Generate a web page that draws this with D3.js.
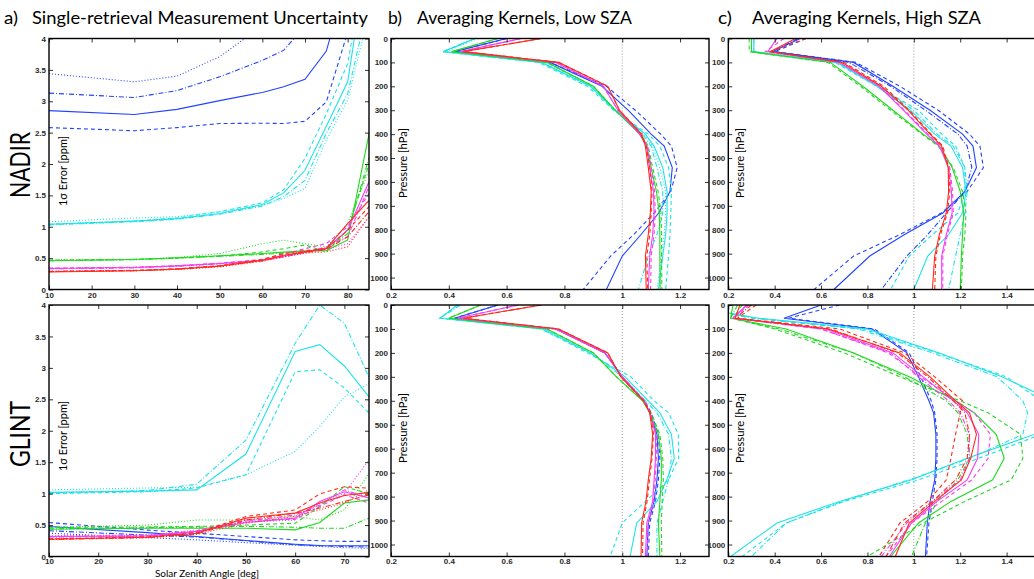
<!DOCTYPE html>
<html>
<head>
<meta charset="utf-8">
<script src="https://cdn.jsdelivr.net/npm/d3@7"></script>
<style>
  body { margin: 0; background: #fff; }
</style>
</head>
<body>
<script>
// ---- data ----
// every table: 5 cases (rows) x 4 variants (solid, dashed, dash-dot, dotted); null = not drawn

const szaNadir = [10, 30, 40, 50, 60, 65, 70, 75, 80, 85];
const szaGlint = [10, 30, 40, 50, 60, 65, 70, 75];
const pLevels = [0, 55, 100, 200, 300, 400, 450, 540, 640, 730, 820, 910, 1050];

const errNadir = [
  [[2.85, 2.79, 2.87, 3.01, 3.14, 3.23, 3.35, 3.80, 5.0, 6.0],
   [2.58, 2.53, 2.58, 2.645, 2.65, 2.645, 2.68, 2.99, 4.1, 5.0],
   [3.13, 3.06, 3.17, 3.39, 3.65, 3.81, 4.2, 5.0, 6.0, 7.0],
   [3.44, 3.31, 3.40, 3.71, 4.2, 4.6, 5.0, 6.0, 7.0, 8.0]],
  [[1.04, 1.09, 1.13, 1.21, 1.355, 1.54, 1.90, 2.60, 3.31, 5.5],
   [1.04, 1.09, 1.14, 1.24, 1.38, 1.59, 2.09, 2.80, 3.60, 5.5],
   [1.03, 1.08, 1.12, 1.20, 1.33, 1.48, 1.74, 2.49, 3.12, 4.6],
   [1.08, 1.14, 1.16, 1.24, 1.34, 1.45, 1.61, 2.38, 3.02, 4.4]],
  [[0.457, 0.478, 0.505, 0.537, 0.574, 0.595, 0.616, 0.62, 0.79, 2.48],
   [0.467, 0.48, 0.50, 0.53, 0.60, 0.65, 0.71, 0.60, 0.95, 2.0],
   [0.46, 0.475, 0.50, 0.53, 0.56, 0.58, 0.60, 0.66, 0.89, 2.1],
   [0.47, 0.48, 0.51, 0.574, 0.73, 0.786, 0.73, 0.68, 1.05, 1.9]],
  [[0.335, 0.35, 0.377, 0.414, 0.467, 0.53, 0.60, 0.653, 0.945, 1.716],
   [0.34, 0.355, 0.38, 0.42, 0.48, 0.56, 0.65, 0.733, 1.0, 1.53],
   [0.33, 0.345, 0.37, 0.41, 0.46, 0.52, 0.59, 0.68, 0.84, 1.64],
   [0.34, 0.35, 0.375, 0.41, 0.46, 0.52, 0.58, 0.64, 0.73, 1.16]],
  [[0.28, 0.30, 0.324, 0.372, 0.467, 0.547, 0.60, 0.653, 1.05, 1.42],
   [0.29, 0.305, 0.33, 0.38, 0.48, 0.574, 0.62, 0.65, 0.945, 1.32],
   [0.285, 0.30, 0.325, 0.37, 0.46, 0.54, 0.59, 0.64, 0.84, 1.24],
   [0.29, 0.30, 0.32, 0.36, 0.45, 0.52, 0.58, 0.60, 0.68, 1.16]]
];

const errGlint = [
  [[0.477, 0.38, 0.318, 0.254, 0.196, 0.175, 0.17, 0.17],
   [0.54, 0.42, 0.37, 0.318, 0.265, 0.25, 0.24, 0.24],
   [0.41, 0.34, 0.31, 0.25, 0.185, 0.17, 0.16, 0.15],
   [0.37, 0.30, 0.265, 0.22, 0.18, 0.16, 0.14, 0.13]],
  [[1.02, 1.04, 1.06, 1.63, 3.26, 3.37, 3.03, 2.54],
   [1.0, 1.03, 1.09, 1.30, 2.94, 2.97, 2.68, 2.28],
   [1.01, 1.05, 1.15, 1.85, 3.39, 4.0, 3.71, 2.85],
   [1.06, 1.09, 1.10, 1.30, 1.67, 2.07, 2.54, 2.75]],
  [[0.434, 0.45, 0.45, 0.45, 0.424, 0.54, 0.85, 0.90],
   [0.466, 0.47, 0.477, 0.50, 0.53, 0.795, 1.11, 1.0],
   [0.44, 0.46, 0.466, 0.48, 0.466, 0.45, 0.45, 0.61],
   [0.46, 0.50, 0.58, 0.58, 0.636, 0.58, 0.74, 1.32]],
  [[0.318, 0.328, 0.40, 0.54, 0.61, 0.874, 1.03, 0.93],
   [0.32, 0.33, 0.41, 0.58, 0.59, 0.80, 0.98, 0.85],
   [0.31, 0.32, 0.39, 0.56, 0.66, 0.82, 1.06, 0.93],
   [0.33, 0.34, 0.42, 0.55, 0.58, 0.85, 1.0, 1.54]],
  [[0.275, 0.307, 0.37, 0.61, 0.69, 0.85, 0.97, 1.02],
   [0.28, 0.31, 0.38, 0.636, 0.74, 0.996, 1.11, 1.086],
   [0.27, 0.30, 0.36, 0.58, 0.69, 0.77, 0.874, 0.98],
   [0.28, 0.30, 0.35, 0.53, 0.64, 0.74, 0.85, 1.06]]
];

const kernLowNadir = [
  [[0.60, 0.42, 0.75, 0.93, 1.02, 1.10, 1.145, 1.173, 1.165, 1.126, 1.065, 1.0, 0.945],
   [0.60, 0.42, 0.75, 0.945, 1.045, 1.133, 1.17, 1.19, 1.168, 1.11, 1.04, 0.96, 0.865],
   null, null],
  [[0.49, 0.38, 0.72, 0.89, 0.975, 1.08, 1.11, 1.14, 1.155, 1.155, 1.15, 1.14, 1.125],
   [0.49, 0.38, 0.71, 0.88, 0.97, 1.09, 1.13, 1.16, 1.17, 1.168, 1.165, 1.16, 1.15],
   [0.49, 0.38, 0.72, 0.89, 0.975, 1.07, 1.10, 1.12, 1.14, 1.14, 1.12, 1.09, 1.056],
   [0.50, 0.39, 0.73, 0.895, 0.98, 1.075, 1.105, 1.13, 1.15, 1.15, 1.145, 1.135, 1.12]],
  [[0.57, 0.41, 0.74, 0.90, 0.975, 1.06, 1.085, 1.10, 1.118, 1.128, 1.13, 1.13, 1.131],
   [0.57, 0.41, 0.74, 0.90, 0.975, 1.065, 1.09, 1.105, 1.124, 1.134, 1.136, 1.136, 1.137],
   null, null],
  [[0.65, 0.44, 0.77, 0.935, 0.985, 1.06, 1.085, 1.095, 1.108, 1.11, 1.105, 1.095, 1.09],
   [0.65, 0.44, 0.77, 0.935, 0.985, 1.062, 1.088, 1.10, 1.112, 1.114, 1.11, 1.10, 1.098],
   null, null],
  [[0.72, 0.45, 0.78, 0.95, 0.99, 1.065, 1.08, 1.09, 1.10, 1.097, 1.09, 1.08, 1.083],
   [0.72, 0.45, 0.78, 0.95, 0.99, 1.068, 1.083, 1.095, 1.103, 1.10, 1.095, 1.085, 1.088],
   null, null]
];

const kernLowGlint = [
  [[0.57, 0.42, 0.77, 0.94, 1.0, 1.075, 1.095, 1.12, 1.125, 1.12, 1.11, 1.09, 1.085],
   [0.57, 0.42, 0.77, 0.94, 1.0, 1.078, 1.10, 1.125, 1.13, 1.125, 1.115, 1.095, 1.09],
   null, null],
  [[0.43, 0.37, 0.73, 0.89, 1.01, 1.09, 1.13, 1.17, 1.18, 1.154, 1.12, 1.05, 1.027],
   [0.43, 0.37, 0.72, 0.88, 1.03, 1.11, 1.16, 1.194, 1.195, 1.16, 1.08, 1.0, 0.958],
   [0.44, 0.37, 0.72, 0.89, 1.0, 1.08, 1.12, 1.16, 1.17, 1.16, 1.14, 1.12, 1.12],
   null],
  [[0.51, 0.40, 0.74, 0.90, 0.98, 1.07, 1.095, 1.125, 1.135, 1.135, 1.13, 1.125, 1.13],
   [0.51, 0.40, 0.74, 0.90, 0.98, 1.072, 1.10, 1.13, 1.14, 1.142, 1.138, 1.135, 1.137],
   null, null],
  [[0.64, 0.43, 0.77, 0.94, 1.0, 1.075, 1.095, 1.115, 1.115, 1.11, 1.105, 1.085, 1.08],
   [0.64, 0.43, 0.77, 0.94, 1.0, 1.077, 1.098, 1.118, 1.118, 1.114, 1.108, 1.09, 1.086],
   null, null],
  [[0.72, 0.45, 0.78, 0.95, 0.995, 1.073, 1.095, 1.105, 1.10, 1.09, 1.082, 1.067, 1.065],
   [0.72, 0.45, 0.78, 0.95, 0.995, 1.075, 1.097, 1.108, 1.103, 1.094, 1.086, 1.072, 1.07],
   null, null]
];

const kernHighNadir = [
  [[0.51, 0.39, 0.74, 0.91, 1.07, 1.21, 1.255, 1.27, 1.22, 1.125, 0.96, 0.81, 0.655],
   [0.535, 0.40, 0.75, 0.94, 1.105, 1.24, 1.285, 1.30, 1.23, 1.118, 0.94, 0.74, 0.57],
   [0.50, 0.39, 0.72, 0.90, 1.05, 1.19, 1.23, 1.25, 1.22, 1.14, 1.06, 0.97, 0.86],
   null],
  [[0.31, 0.31, 0.67, 0.84, 0.985, 1.09, 1.16, 1.21, 1.225, 1.21, 1.15, 1.06, 1.0],
   [0.30, 0.30, 0.66, 0.84, 1.02, 1.12, 1.18, 1.22, 1.22, 1.19, 1.08, 0.98, 0.90],
   [0.31, 0.31, 0.67, 0.85, 1.0, 1.10, 1.17, 1.22, 1.23, 1.22, 1.20, 1.18, 1.15],
   null],
  [[0.30, 0.30, 0.64, 0.78, 0.91, 1.04, 1.11, 1.165, 1.20, 1.215, 1.21, 1.205, 1.20],
   [0.29, 0.29, 0.63, 0.77, 0.90, 1.035, 1.105, 1.17, 1.21, 1.225, 1.22, 1.21, 1.205],
   null, null],
  [[0.41, 0.37, 0.68, 0.85, 0.955, 1.055, 1.11, 1.15, 1.162, 1.165, 1.14, 1.12, 1.12],
   [0.44, 0.36, 0.69, 0.855, 0.96, 1.06, 1.115, 1.155, 1.167, 1.17, 1.145, 1.125, 1.125],
   null, null],
  [[0.49, 0.38, 0.69, 0.86, 0.975, 1.07, 1.12, 1.148, 1.15, 1.14, 1.11, 1.09, 1.08],
   [0.535, 0.38, 0.70, 0.87, 0.98, 1.075, 1.125, 1.15, 1.155, 1.145, 1.115, 1.095, 1.09],
   null, null]
];

const kernHighGlint = [
  [[0.60, 0.44, 0.82, 0.97, 1.02, 1.065, 1.085, 1.095, 1.095, 1.09, 1.07, 1.058, 1.05],
   [0.68, 0.46, 0.83, 0.98, 1.03, 1.075, 1.09, 1.10, 1.10, 1.095, 1.08, 1.065, 1.055],
   null, null],
  [[0.0, 0.33, 0.80, 1.11, 1.38, 1.60, 1.63, 1.52, 1.23, 0.99, 0.68, 0.41, 0.21],
   [0.0, 0.32, 0.78, 1.10, 1.40, 1.55, 1.58, 1.55, 1.28, 1.02, 0.70, 0.45, 0.26],
   [0.0, 0.30, 0.76, 1.08, 1.36, 1.47, 1.49, 1.47, 1.24, 0.98, 0.69, 0.45, 0.30],
   null],
  [[0.22, 0.21, 0.45, 0.74, 0.98, 1.18, 1.26, 1.355, 1.39, 1.34, 1.16, 1.02, 0.90],
   [0.26, 0.22, 0.40, 0.70, 0.94, 1.20, 1.32, 1.46, 1.47, 1.42, 1.22, 1.04, 0.80],
   [0.24, 0.21, 0.42, 0.74, 0.96, 1.14, 1.19, 1.23, 1.24, 1.19, 1.10, 1.05, 0.99],
   null],
  [[0.28, 0.22, 0.62, 0.91, 1.04, 1.17, 1.23, 1.28, 1.275, 1.23, 1.10, 0.99, 0.895],
   [0.29, 0.22, 0.60, 0.89, 1.03, 1.18, 1.26, 1.33, 1.32, 1.25, 1.12, 0.99, 0.88],
   [0.28, 0.22, 0.60, 0.90, 1.02, 1.15, 1.20, 1.24, 1.24, 1.20, 1.08, 0.97, 0.86],
   null],
  [[0.25, 0.23, 0.63, 0.94, 1.07, 1.18, 1.24, 1.27, 1.245, 1.205, 1.09, 0.98, 0.92],
   [0.32, 0.24, 0.68, 0.96, 1.09, 1.21, 1.20, 1.18, 1.16, 1.14, 1.06, 0.94, 0.85],
   [0.30, 0.23, 0.64, 0.93, 1.06, 1.17, 1.22, 1.24, 1.23, 1.18, 1.08, 0.96, 0.88],
   null]
];

const errTicks = [0, 0.5, 1, 1.5, 2, 2.5, 3, 3.5, 4];
const pTicks = [0, 100, 200, 300, 400, 500, 600, 700, 800, 900, 1000];

// ---- styles ----
const width = 1034;
const height = 579;
const caseColors = ["#2243ff", "#1fe3e8", "#22d822", "#f43ff4", "#ff2a1a"];
const variantDash = [null, "4,3", "5,2,1,2", "1,2"];
const tickFont = "Liberation Sans, Arial, sans-serif";
const labelFont = "Lato, 'Open Sans', sans-serif";

const svg = d3.select("body")
  .append("svg")
  .attr("width", width)
  .attr("height", height)
  .style("display", "block");

const rowTop = [38.5, 289.5];
const rowBot = [305, 556.5];

const panels = [
  { kind: "err", data: errNadir, axis: szaNadir, xr: [49, 369], yr: rowTop, labelY: 171,
    xd: [10, 85], yd: [0, 4], xt: [10, 20, 30, 40, 50, 60, 70, 80], yt: errTicks },
  { kind: "err", data: errGlint, axis: szaGlint, xr: [49, 369], yr: rowBot, labelY: 436,
    xd: [10, 75], yd: [0, 4], xt: [10, 20, 30, 40, 50, 60, 70], yt: errTicks },
  { kind: "kern", data: kernLowNadir, axis: pLevels, xr: [391, 709], yr: rowTop, labelY: 163,
    xd: [0.2, 1.3], yd: [0, 1050], xt: [0.2, 0.4, 0.6, 0.8, 1, 1.2], yt: pTicks },
  { kind: "kern", data: kernLowGlint, axis: pLevels, xr: [391, 709], yr: rowBot, labelY: 428,
    xd: [0.2, 1.3], yd: [0, 1050], xt: [0.2, 0.4, 0.6, 0.8, 1, 1.2], yt: pTicks },
  { kind: "kern", data: kernHighNadir, axis: pLevels, xr: [728.3, 1053], yr: rowTop, labelY: 163,
    xd: [0.2, 1.6], yd: [0, 1050], xt: [0.2, 0.4, 0.6, 0.8, 1, 1.2, 1.4], yt: pTicks },
  { kind: "kern", data: kernHighGlint, axis: pLevels, xr: [728.3, 1053], yr: rowBot, labelY: 428,
    xd: [0.2, 1.6], yd: [0, 1050], xt: [0.2, 0.4, 0.6, 0.8, 1, 1.2, 1.4], yt: pTicks }
];

const fmt = d3.format("~g");

panels.forEach((p, i) => {
  const x = d3.scaleLinear().domain(p.xd).range(p.xr);
  const y = d3.scaleLinear().domain(p.yd)
    .range(p.kind === "err" ? [p.yr[1], p.yr[0]] : p.yr);

  const clipId = "clip" + i;
  svg.append("clipPath").attr("id", clipId)
    .append("rect")
    .attr("x", p.xr[0]).attr("y", p.yr[0])
    .attr("width", p.xr[1] - p.xr[0]).attr("height", p.yr[1] - p.yr[0]);

  const g = svg.append("g");
  const plot = g.append("g").attr("clip-path", `url(#${clipId})`);

  if (p.kind === "kern") {
    plot.append("line")
      .attr("x1", x(1)).attr("x2", x(1))
      .attr("y1", p.yr[0]).attr("y2", p.yr[1])
      .attr("stroke", "#8a8a8a")
      .attr("stroke-width", 0.8)
      .attr("stroke-dasharray", "1,2");
  }

  const line = d3.line();
  p.data.forEach((group, ci) => {
    group.forEach((vals, vi) => {
      if (!vals) return;
      const pts = vals.map((v, k) => p.kind === "err"
        ? [x(p.axis[k]), y(v)]
        : [x(v), y(p.axis[k])]);
      plot.append("path")
        .attr("d", line(pts))
        .attr("fill", "none")
        .attr("stroke", caseColors[ci])
        .attr("stroke-width", 1.1)
        .attr("stroke-dasharray", variantDash[vi]);
    });
  });

  // axes: MATLAB-style ticks pointing in, on all four sides
  const styleAxis = sel => {
    sel.select(".domain").remove();
    sel.selectAll(".tick line").attr("stroke", "#000").attr("stroke-width", 0.8);
    sel.attr("font-size", 8).attr("font-family", tickFont).attr("font-weight", "bold");
    sel.selectAll(".tick text").attr("fill", "#2a2a2a");
  };

  const pad = p.yr === rowBot ? 1.5 : 3;
  g.append("g").attr("transform", `translate(0,${p.yr[1]})`)
    .call(d3.axisBottom(x).tickValues(p.xt).tickSize(-4).tickPadding(pad).tickFormat(fmt))
    .call(styleAxis);
  g.append("g").attr("transform", `translate(0,${p.yr[0]})`)
    .call(d3.axisTop(x).tickValues(p.xt).tickSize(-4).tickFormat(""))
    .call(styleAxis);
  g.append("g").attr("transform", `translate(${p.xr[0]},0)`)
    .call(d3.axisLeft(y).tickValues(p.yt).tickSize(-4).tickPadding(3).tickFormat(fmt))
    .call(styleAxis);
  g.append("g").attr("transform", `translate(${p.xr[1]},0)`)
    .call(d3.axisRight(y).tickValues(p.yt).tickSize(-4).tickFormat(""))
    .call(styleAxis);

  g.append("rect")
    .attr("x", p.xr[0]).attr("y", p.yr[0])
    .attr("width", p.xr[1] - p.xr[0]).attr("height", p.yr[1] - p.yr[0])
    .attr("fill", "none")
    .attr("stroke", "#000")
    .attr("stroke-width", 1.4);

  // axis title inside the frame
  const yLabel = p.kind === "err" ? "1σ Error [ppm]" : "Pressure  [hPa]";
  const lx = p.kind === "err" ? 67 : p.xr[0] + 16;
  g.append("text")
    .attr("transform", `translate(${lx},${p.labelY}) rotate(-90)`)
    .attr("text-anchor", "middle")
    .attr("font-family", labelFont)
    .attr("font-size", 11)
    .attr("textLength", 70)
    .attr("lengthAdjust", "spacingAndGlyphs")
    .text(yLabel);
});

// panel titles
const titles = [
  { t: "a)", x: 4, w: 14 }, { t: "Single-retrieval Measurement Uncertainty", x: 32, w: 336 },
  { t: "b)", x: 388, w: 14 }, { t: "Averaging Kernels,  Low SZA", x: 417, w: 215 },
  { t: "c)", x: 718, w: 14 }, { t: "Averaging Kernels, High SZA", x: 752, w: 229 }
];
svg.append("g").selectAll("text")
  .data(titles)
  .join("text")
  .attr("x", d => d.x)
  .attr("y", 24)
  .attr("font-family", labelFont)
  .attr("font-size", 17)
  .attr("textLength", d => d.w)
  .attr("lengthAdjust", "spacingAndGlyphs")
  .text(d => d.t);

// row labels
[["NADIR", 165], ["GLINT", 434]].forEach(([t, cy]) => {
  svg.append("text")
    .attr("transform", `translate(30,${cy}) rotate(-90)`)
    .attr("text-anchor", "middle")
    .attr("font-family", labelFont)
    .attr("font-size", 27)
    .attr("textLength", 66)
    .attr("lengthAdjust", "spacingAndGlyphs")
    .text(t);
});

svg.append("text")
  .attr("x", 207)
  .attr("y", 576.5)
  .attr("text-anchor", "middle")
  .attr("font-family", labelFont)
  .attr("font-size", 10)
  .attr("textLength", 104)
  .attr("lengthAdjust", "spacingAndGlyphs")
  .text("Solar Zenith Angle [deg]");
</script>
</body>
</html>
